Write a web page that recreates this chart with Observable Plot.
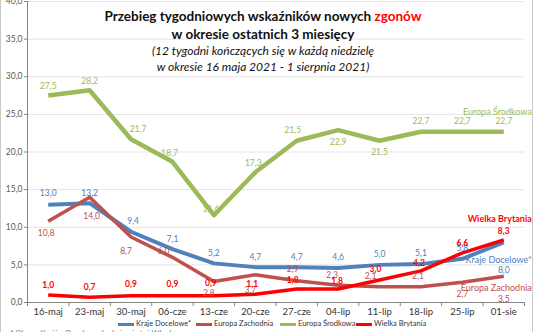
<!DOCTYPE html>
<html><head><meta charset="utf-8">
<script src="https://cdn.jsdelivr.net/npm/d3@7"></script>
<script src="https://cdn.jsdelivr.net/npm/@observablehq/plot@0.6"></script>
<style>
body{margin:0;background:#fff;font-family:Lato,"Noto Sans",sans-serif;}
#wrap{position:relative;width:536px;height:332px;overflow:hidden;background:#fff;}
.t{position:absolute;left:0;width:526px;text-align:center;white-space:nowrap;color:#111;}
.t1{top:7px;font-size:13.5px;font-weight:bold;line-height:18px;}
.t2{top:25px;font-size:13.5px;font-weight:bold;line-height:18px;}
.t3{top:43px;font-size:12px;font-style:italic;line-height:16px;}
.t4{top:59px;font-size:12px;font-style:italic;line-height:16px;}
.leg{position:absolute;top:319px;font-size:7.5px;color:#333;line-height:10px;white-space:nowrap;}
.sw{position:absolute;top:323px;height:3px;width:16px;}
.foot{position:absolute;left:10px;top:328px;font-size:8px;font-style:italic;color:#4f81bd;white-space:nowrap;}
.bl{position:absolute;top:0;width:1px;height:332px;background:#c8c8c8;}
svg{position:absolute;left:0;top:0;overflow:visible;}
</style></head><body><div id="wrap"></div>
<script>
const weeks = ["16-maj","23-maj","30-maj","06-cze","13-cze","20-cze","27-cze","04-lip","11-lip","18-lip","25-lip","01-sie"];
const krajeDocelowe   = [13.0, 13.2, 9.4, 7.1, 5.2, 4.7, 4.7, 4.6, 5.0, 5.1, 5.8, 8.0];
const europaZachodnia = [10.8, 14.0, 8.7, 6.0, 2.8, 3.7, 2.9, 2.3, 2.1, 2.1, 2.7, 3.5];
const europaSrodkowa  = [27.5, 28.2, 21.7, 18.7, 11.6, 17.3, 21.5, 22.9, 21.5, 22.7, 22.7, 22.7];
const wielkaBrytania  = [1.0, 0.7, 0.9, 0.9, 0.9, 1.1, 1.8, 1.8, 3.0, 4.2, 6.6, 8.3];
const yTicks = [0, 5, 10, 15, 20, 25, 30, 35, 40];

// label offsets [dx, dy] in pixels (styling only)
const offKD = [[0,-11],[0,-10],[2,-10],[0,-10],[0,-10],[0,-10],[0,-10],[0,-11],[0,-11],[0,-11],[0,-11],[0,28]];
const offEZ = [[-2,12],[2,19],[-5,14],[-9,-6],[-5,12],[-5,16],[-4,-11],[-6,-10],[-9,-10],[-3,-10],[0,12],[0,23]];
const offES = [[0,-9],[0,-9],[7,-10],[-3,-9],[-3,-6],[-2,-9],[-4,-10],[0,12],[0,12],[0,-10],[0,-10],[0,-10]];
const offWB = [[0,-10],[0,-10],[0,-11],[0,-11],[-3,-12],[-3,-10],[-4,-9],[-1,-8],[-4,-11],[-2,-8],[0,-10],[0,-9]];

const series = [
  {name:"Kraje Docelowe*", values:krajeDocelowe, color:"#4f81bd", w:4, off:offKD, nameDy:18, bold:false},
  {name:"Europa Zachodnia", values:europaZachodnia, color:"#c0504d", w:3.5, off:offEZ, nameDy:12, bold:false},
  {name:"Europa Środkowa", values:europaSrodkowa, color:"#9bbb59", w:4.5, off:offES, nameDy:-20, bold:false},
  {name:"Wielka Brytania", values:wielkaBrytania, color:"#ff0000", w:3.5, off:offWB, nameDy:-21, bold:true}
];
const fmt = d => d.toFixed(1).replace(".", ",");
const idx = weeks.map((w, i) => i);
const bounds = [-0.5, ...idx.map(i => i + 0.5)];

const marks = [
  Plot.gridY(yTicks.slice(1), {stroke:"#e4e4e4", strokeOpacity:1}),
  Plot.axisY(yTicks, {tickFormat: fmt, fontSize: 8.5, tickSize: 3, tickPadding: 2, fill:"#595959", stroke:"#868686"}),
  Plot.ruleX([-0.5], {stroke:"#868686"}),
  Plot.ruleY([0], {stroke:"#868686"}),
  Plot.ruleX(bounds, {x: d => d, y1: () => 0, y2: () => -0.55, stroke:"#868686"}),
  Plot.axisX(idx, {tickFormat: i => weeks[i], tickSize: 0, tickPadding: 6, fontSize: 9.5, fill:"#333"})
];
for (const s of series) {
  marks.push(Plot.line(s.values, {x: (d, i) => i, y: d => d, stroke: s.color, strokeWidth: s.w, strokeLinejoin:"round", strokeLinecap:"butt"}));
}
for (const s of series) {
  s.values.forEach((v, i) => {
    marks.push(Plot.text([v], {x: () => i, y: d => d, text: fmt, dx: s.off[i][0], dy: s.off[i][1],
      fill: s.color, fontSize: 8.5, fontWeight: s.bold ? "bold" : "normal"}));
  });
  const last = s.values.length - 1;
  marks.push(Plot.text([s.values[last]], {x: () => last, y: d => d, text: () => s.name, dx: 28, dy: s.nameDy,
    textAnchor: "end", fill: s.color, fontSize: 9, fontWeight: s.bold ? "bold" : "normal"}));
}

const chart = Plot.plot({
  width: 536, height: 332,
  marginLeft: 27, marginRight: 12, marginTop: 1, marginBottom: 30,
  style: {fontFamily: "Lato, 'Noto Sans', sans-serif", background: "transparent", overflow: "visible"},
  x: {type: "linear", domain: [-0.5, 11.5], axis: null},
  y: {domain: [0, 40], axis: null},
  marks
});
const wrap = document.getElementById("wrap");
wrap.appendChild(chart);

const html = `
<div class="t t1">Przebieg tygodniowych wskaźników nowych <span style="color:#ff0000">zgonów</span></div>
<div class="t t2">w okresie ostatnich 3 miesięcy</div>
<div class="t t3">(12 tygodni kończących się w każdą niedzielę</div>
<div class="t t4">w okresie 16 maja 2021 - 1 sierpnia 2021)</div>`;
wrap.insertAdjacentHTML("beforeend", html);
const legX = [118, 196, 280, 356];
series.forEach((s, k) => {
  wrap.insertAdjacentHTML("beforeend",
    `<div class="sw" style="left:${legX[k]}px;background:${s.color}"></div><div class="leg" style="left:${legX[k]+18}px">${s.name}</div>`);
});
wrap.insertAdjacentHTML("beforeend", `<div class="foot">* Obszar Krajów Docelowych obejmuje też Włochy</div><div class="bl" style="left:0"></div><div class="bl" style="left:532px"></div>`);
</script>
</body></html>
